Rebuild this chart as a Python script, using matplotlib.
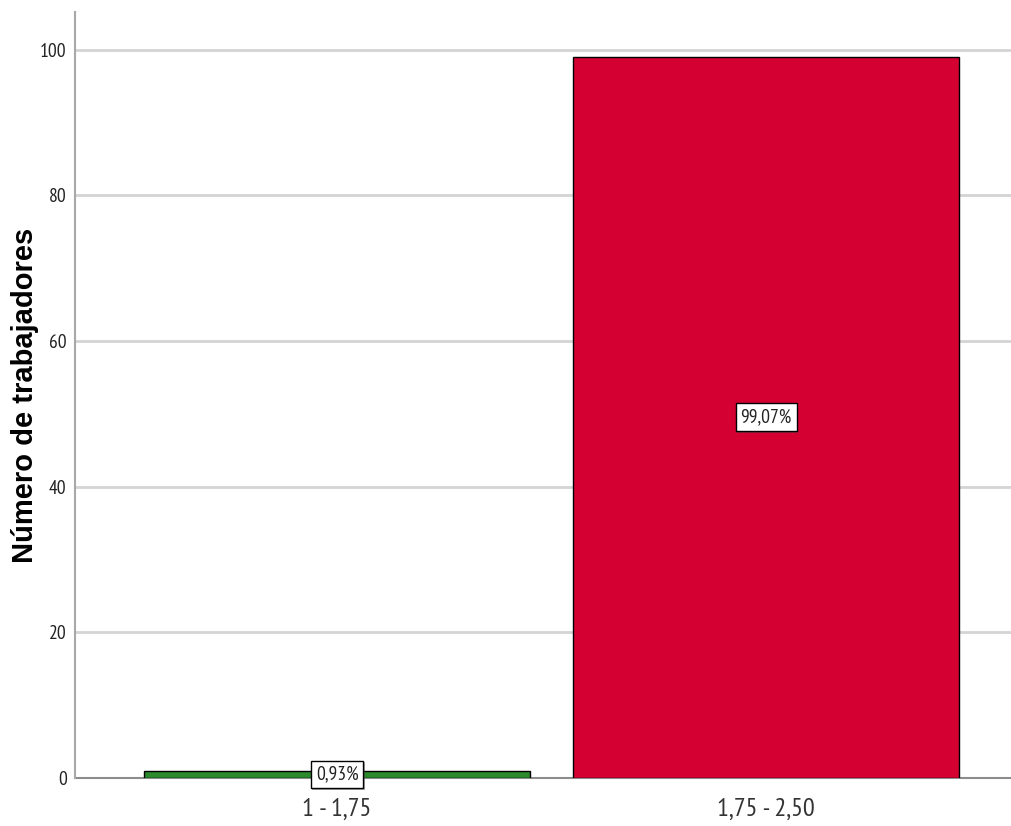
import matplotlib.pyplot as plt
import matplotlib.patheffects as pe

categories = ["1 - 1,75", "1,75 - 2,50"]
percentages = [0.93, 99.07]
bar_colors = ["#2b8a2b", "#d50032"]
yticks = [0, 20, 40, 60, 80, 100]

narrow = ["PT Sans Narrow", "Archivo Narrow", "DejaVu Sans"]

fig = plt.figure(figsize=(10.11, 8.26), dpi=100)
ax = fig.add_axes([0.0742, 0.0581, 0.9258, 0.9274])

x = list(range(len(categories)))
ax.bar(x, percentages, width=0.9, color=bar_colors, edgecolor="black",
       linewidth=1.0, zorder=3)

# percentage labels boxed in the middle of each bar
for xi, p in zip(x, percentages):
    label = f"{p:.2f}%".replace(".", ",")
    t = ax.text(xi, p / 2, label, ha="center", va="center", fontsize=14,
                family=narrow, color="#222222", zorder=5,
                bbox=dict(boxstyle="square,pad=0.25", facecolor="white",
                          edgecolor="black", linewidth=1.0))
    t.get_bbox_patch().set_path_effects(
        [pe.SimplePatchShadow(offset=(1, -1), alpha=0.5), pe.Normal()])

ax.set_xlim(-0.611, 1.571)
ax.set_ylim(0, 105.2)
ax.set_xticks(x)
ax.set_xticklabels(categories, fontsize=19, family=narrow, color="#333333")
ax.set_yticks(yticks)
ax.set_yticklabels([str(v) for v in yticks], fontsize=14, family=narrow,
                   color="#222222")
ax.tick_params(axis="both", length=0)
ax.tick_params(axis="y", pad=6)
ax.tick_params(axis="x", pad=14)

ax.yaxis.grid(True, color="#d4d4d4", linewidth=2, zorder=0)
ax.set_axisbelow(True)

for side in ["top", "right"]:
    ax.spines[side].set_visible(False)
ax.spines["left"].set_color("#a8a8a8")
ax.spines["left"].set_linewidth(1.5)
ax.spines["bottom"].set_color("#8c8c8c")
ax.spines["bottom"].set_linewidth(1.5)
ax.spines["bottom"].set_zorder(2)

ax.set_ylabel("Número de trabajadores", fontsize=21, fontweight="bold",
              family=["Liberation Sans", "DejaVu Sans"], labelpad=1)

fig.savefig("out.png", dpi=100)
